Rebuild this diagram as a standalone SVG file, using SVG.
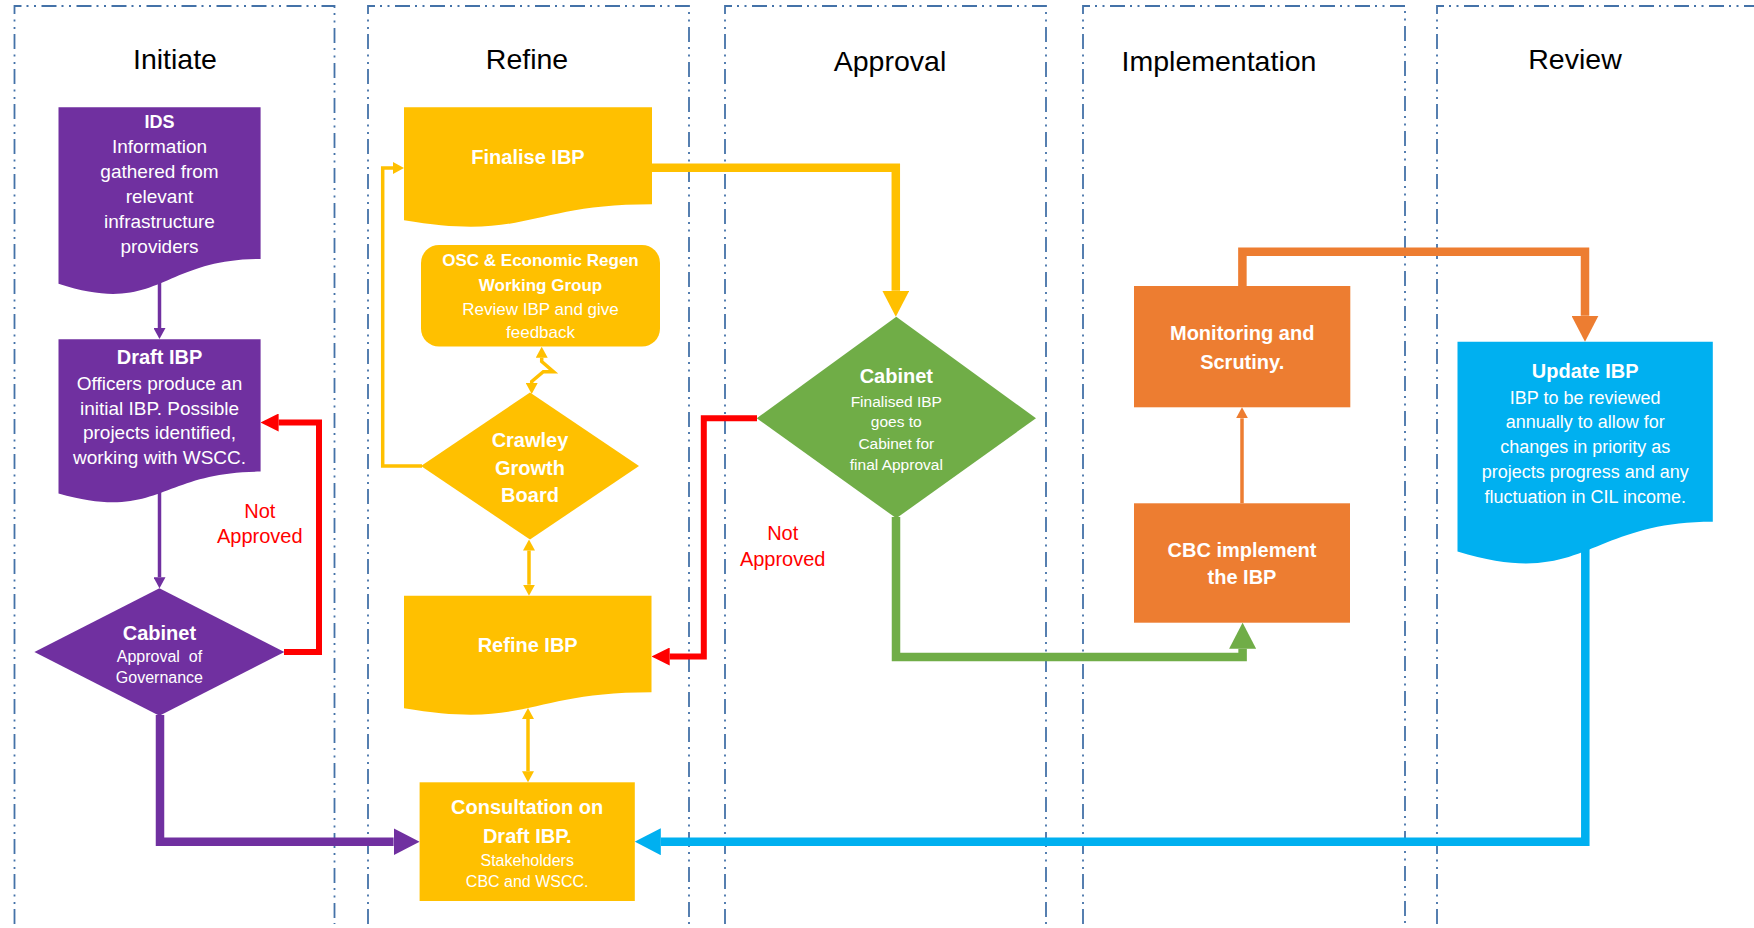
<svg xmlns="http://www.w3.org/2000/svg" width="1754" height="928" viewBox="0 0 1754 928">
<style>
.lane{fill:none;stroke:#4472A8;stroke-width:1.8;stroke-dasharray:15 5 2 5.5 2 5.5}
.hdr{font-family:"Liberation Sans",Arial,sans-serif;font-size:28.5px;fill:#000;text-anchor:middle}
.t{font-family:"Liberation Sans",Arial,sans-serif;fill:#fff;text-anchor:middle}
.b{font-weight:bold;font-size:20px}
.r19{font-size:19px}
.r18{font-size:18px}
.r17{font-size:17px}
.r16{font-size:16px}
.r15{font-size:15.5px}
.na{font-family:"Liberation Sans",Arial,sans-serif;font-size:20px;fill:#FF0000;text-anchor:middle}
.c{fill:none;stroke-linejoin:miter;stroke-linecap:butt}
.thick{stroke-width:8.5}
.red{stroke:#FF0000;stroke-width:6}
.thin{stroke-width:3.5}
</style>
<defs>
<marker id="bigP" markerUnits="userSpaceOnUse" markerWidth="26" markerHeight="27" viewBox="0 0 26 27" refX="0" refY="13.5" orient="auto"><path d="M0,0 L26,13.5 L0,27 Z" fill="#7030A0"/></marker>
<marker id="bigY" markerUnits="userSpaceOnUse" markerWidth="26" markerHeight="27" viewBox="0 0 26 27" refX="0" refY="13.5" orient="auto"><path d="M0,0 L26,13.5 L0,27 Z" fill="#FFC000"/></marker>
<marker id="bigG" markerUnits="userSpaceOnUse" markerWidth="26" markerHeight="27" viewBox="0 0 26 27" refX="0" refY="13.5" orient="auto"><path d="M0,0 L26,13.5 L0,27 Z" fill="#70AD47"/></marker>
<marker id="bigO" markerUnits="userSpaceOnUse" markerWidth="26" markerHeight="27" viewBox="0 0 26 27" refX="0" refY="13.5" orient="auto"><path d="M0,0 L26,13.5 L0,27 Z" fill="#ED7D31"/></marker>
<marker id="bigB" markerUnits="userSpaceOnUse" markerWidth="26" markerHeight="27" viewBox="0 0 26 27" refX="0" refY="13.5" orient="auto"><path d="M0,0 L26,13.5 L0,27 Z" fill="#00B0F0"/></marker>
<marker id="redA" markerUnits="userSpaceOnUse" markerWidth="18" markerHeight="18" viewBox="0 0 18 18" refX="0" refY="9" orient="auto"><path d="M0,0 L18,9 L0,18 Z" fill="#FF0000"/></marker>
<marker id="thinP" markerUnits="userSpaceOnUse" markerWidth="11" markerHeight="12" viewBox="0 0 11 12" refX="0" refY="6" orient="auto-start-reverse"><path d="M0,0 L11,6 L0,12 Z" fill="#7030A0"/></marker>
<marker id="thinY" markerUnits="userSpaceOnUse" markerWidth="11" markerHeight="12" viewBox="0 0 11 12" refX="0" refY="6" orient="auto-start-reverse"><path d="M0,0 L11,6 L0,12 Z" fill="#FFC000"/></marker>
<marker id="thinO" markerUnits="userSpaceOnUse" markerWidth="11" markerHeight="12" viewBox="0 0 11 12" refX="0" refY="6" orient="auto-start-reverse"><path d="M0,0 L11,6 L0,12 Z" fill="#ED7D31"/></marker>
</defs>
<rect width="1754" height="928" fill="#fff"/>
<g id="lanes">
<path class="lane" d="M14.5,924 V6 H334.5 V924"/>
<path class="lane" d="M368,924 V6 H689 V924"/>
<path class="lane" d="M725,924 V6 H1046 V924"/>
<path class="lane" d="M1083,924 V6 H1405 V924"/>
<path class="lane" d="M1437,924 V6 H1760"/>
<text class="hdr" x="175" y="69">Initiate</text>
<text class="hdr" x="527" y="69">Refine</text>
<text class="hdr" x="890" y="71">Approval</text>
<text class="hdr" x="1219" y="71">Implementation</text>
<text class="hdr" x="1575" y="69">Review</text>
</g>
<g id="connectors">
<path class="c thin" stroke="#7030A0" d="M159.5,282 V328" marker-end="url(#thinP)"/>
<path class="c thin" stroke="#7030A0" d="M159.5,492 V577.3" marker-end="url(#thinP)"/>
<path class="c thick" stroke="#7030A0" d="M160,715 V841.7 H393.6" marker-end="url(#bigP)"/>
<path class="c red" d="M284,652 H319 V422.5 H278.6" marker-end="url(#redA)"/>
<path class="c red" d="M757,418.2 H703.8 V656.5 H669.7" marker-end="url(#redA)"/>
<path class="c thick" stroke="#FFC000" d="M651,167.8 H895.8 V290.7" marker-end="url(#bigY)"/>
<path class="c thin" stroke="#FFC000" d="M422,466 H382.7 V168 H393" marker-end="url(#thinY)"/>
<path class="c thin" stroke="#FFC000" d="M541.7,357.7 V361.5 L553.5,371.7 L543.3,371.7 L531.7,381.5 V383" marker-start="url(#thinY)" marker-end="url(#thinY)"/>
<path class="c thin" stroke="#FFC000" d="M529,550.5 V584.7" marker-start="url(#thinY)" marker-end="url(#thinY)"/>
<path class="c thin" stroke="#FFC000" d="M528,719 V771.3" marker-start="url(#thinY)" marker-end="url(#thinY)"/>
<path class="c thick" stroke="#70AD47" d="M896,517 V657 H1242.6 V648.7" marker-end="url(#bigG)"/>
<path class="c thin" stroke="#ED7D31" d="M1242,503.3 V418.3" marker-end="url(#thinO)"/>
<path class="c thick" stroke="#ED7D31" d="M1242.4,287 V251.7 H1585 V315.7" marker-end="url(#bigO)"/>
<path class="c thick" stroke="#00B0F0" d="M1585.3,548 V841.7 H660.8" marker-end="url(#bigB)"/>
<text class="na" x="259.8" y="518.3">Not</text>
<text class="na" x="259.8" y="543.3">Approved</text>
<text class="na" x="782.7" y="540">Not</text>
<text class="na" x="782.7" y="566">Approved</text>
</g>
<g id="ids">
<path fill="#7030A0" d="M58.5,107.3 H260.6 V258.9 C159.55,258.9 159.55,316.6 58.5,283.8 Z"/>
<text class="t b" style="font-size:18px" x="159.5" y="128.3">IDS</text>
<text class="t r19" x="159.5" y="153.3">Information</text>
<text class="t r19" x="159.5" y="178.3">gathered from</text>
<text class="t r19" x="159.5" y="203.3">relevant</text>
<text class="t r19" x="159.5" y="228.3">infrastructure</text>
<text class="t r19" x="159.5" y="252.7">providers</text>
</g>
<g id="draft-ibp">
<path fill="#7030A0" d="M58.5,339.3 H260.6 V471.6 C159.55,471.6 159.55,522 58.5,493.4 Z"/>
<text class="t b" x="159.5" y="364">Draft IBP</text>
<text class="t r19" x="159.5" y="390">Officers produce an</text>
<text class="t r19" x="159.5" y="415">initial IBP. Possible</text>
<text class="t r19" x="159.5" y="439.3">projects identified,</text>
<text class="t r19" x="159.5" y="464">working with WSCC.</text>
</g>
<g id="cabinet-governance">
<polygon fill="#7030A0" points="159.4,588.3 284.4,652 159.4,715.7 34.4,652"/>
<text class="t b" x="159.4" y="640">Cabinet</text>
<text class="t r16" x="159.4" y="661.7" style="white-space:pre">Approval  of</text>
<text class="t r16" x="159.4" y="683.3">Governance</text>
</g>
<g id="finalise-ibp">
<path fill="#FFC000" d="M404,107.3 H652 V204.3 C528,204.3 528,241.3 404,220.3 Z"/>
<text class="t b" x="528" y="164">Finalise IBP</text>
</g>
<g id="osc">
<rect fill="#FFC000" x="421" y="245" width="239" height="101.5" rx="18"/>
<text class="t b" style="font-size:17px" x="540.5" y="265.7">OSC &amp; Economic Regen</text>
<text class="t b" style="font-size:17px" x="540.5" y="290.7">Working Group</text>
<text class="t r17" x="540.5" y="315">Review IBP and give</text>
<text class="t r17" x="540.5" y="338">feedback</text>
</g>
<g id="crawley-growth-board">
<polygon fill="#FFC000" points="530,392.5 639,466 530,539.5 421,466"/>
<text class="t b" x="530" y="447">Crawley</text>
<text class="t b" x="530" y="474.5">Growth</text>
<text class="t b" x="530" y="502">Board</text>
</g>
<g id="refine-ibp">
<path fill="#FFC000" d="M404,595.7 H651.5 V692.3 C527.75,692.3 527.75,729.2 404,708.2 Z"/>
<text class="t b" x="527.7" y="652.3">Refine IBP</text>
</g>
<g id="consultation">
<rect fill="#FFC000" x="419.6" y="782.3" width="215.2" height="118.7"/>
<text class="t b" x="527.2" y="814">Consultation on</text>
<text class="t b" x="527.2" y="842.7">Draft IBP.</text>
<text class="t r16" x="527.2" y="866">Stakeholders</text>
<text class="t r16" x="527.2" y="887.3">CBC and WSCC.</text>
</g>
<g id="cabinet-approval">
<polygon fill="#70AD47" points="896.3,316.7 1036,418.3 896.3,518.3 756.7,418.3"/>
<text class="t b" x="896.3" y="382.7">Cabinet</text>
<text class="t r15" x="896.3" y="406.7">Finalised IBP</text>
<text class="t r15" x="896.3" y="427.3">goes to</text>
<text class="t r15" x="896.3" y="449">Cabinet for</text>
<text class="t r15" x="896.3" y="470">final Approval</text>
</g>
<g id="monitoring">
<rect fill="#ED7D31" x="1134" y="286" width="216.3" height="121.3"/>
<text class="t b" x="1242.2" y="340">Monitoring and</text>
<text class="t b" x="1242.2" y="369.3">Scrutiny.</text>
</g>
<g id="cbc-implement">
<rect fill="#ED7D31" x="1134" y="503.3" width="216" height="119.4"/>
<text class="t b" x="1242" y="556.7">CBC implement</text>
<text class="t b" x="1242" y="584.3">the IBP</text>
</g>
<g id="update-ibp">
<path fill="#00B0F0" d="M1457.5,341.7 H1712.8 V521.8 C1585.15,521.8 1585.15,590.4 1457.5,551.5 Z"/>
<text class="t b" x="1585.2" y="377.7">Update IBP</text>
<text class="t r18" x="1585.2" y="404">IBP to be reviewed</text>
<text class="t r18" x="1585.2" y="428.3">annually to allow for</text>
<text class="t r18" x="1585.2" y="452.7">changes in priority as</text>
<text class="t r18" x="1585.2" y="477.7">projects progress and any</text>
<text class="t r18" x="1585.2" y="502.7">fluctuation in CIL income.</text>
</g>
</svg>
